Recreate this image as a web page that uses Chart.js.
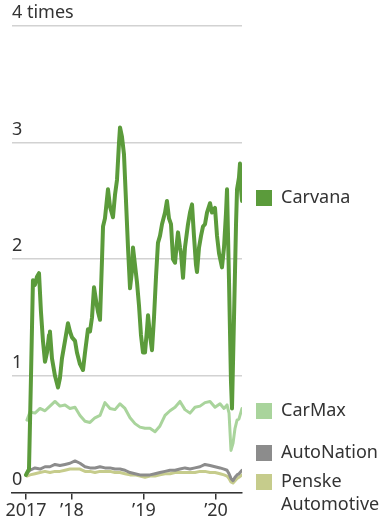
<!DOCTYPE html>
<html>
<head>
<meta charset="utf-8">
<script src="https://cdn.jsdelivr.net/npm/chart.js@4/dist/chart.umd.min.js"></script>
<style>
  html, body { margin: 0; padding: 0; background: #ffffff; }
  canvas { display: block; }
</style>
</head>
<body>
<canvas id="c" width="392" height="523"></canvas>
<script>
// ---- data (x values are decimal years) ----
const seriesNames = ['Carvana', 'CarMax', 'AutoNation', 'Penske Automotive'];

const carvanaDates = [
  2017.361, 2017.403, 2017.431, 2017.458, 2017.486, 2017.514, 2017.542, 2017.569, 2017.597, 2017.625,
  2017.653, 2017.681, 2017.694, 2017.722, 2017.764, 2017.806, 2017.833, 2017.861, 2017.903, 2017.944,
  2017.972, 2018.000, 2018.042, 2018.069, 2018.111, 2018.153, 2018.181, 2018.222, 2018.250, 2018.278,
  2018.306, 2018.333, 2018.361, 2018.389, 2018.417, 2018.431, 2018.458, 2018.500, 2018.528, 2018.569,
  2018.597, 2018.625, 2018.653, 2018.667, 2018.694, 2018.722, 2018.750, 2018.778, 2018.806, 2018.833,
  2018.847, 2018.875, 2018.903, 2018.931, 2018.958, 2018.986, 2019.014, 2019.042, 2019.056, 2019.083,
  2019.111, 2019.139, 2019.167, 2019.194, 2019.222, 2019.250, 2019.292, 2019.319, 2019.347, 2019.375,
  2019.403, 2019.431, 2019.458, 2019.472, 2019.500, 2019.514, 2019.542, 2019.569, 2019.611, 2019.639,
  2019.667, 2019.694, 2019.722, 2019.736, 2019.764, 2019.792, 2019.819, 2019.847, 2019.875, 2019.917,
  2019.944, 2019.986, 2020.014, 2020.042, 2020.083, 2020.111, 2020.139, 2020.153, 2020.181, 2020.208,
  2020.222, 2020.250, 2020.278, 2020.292, 2020.319, 2020.333, 2020.347, 2020.361
];
const carvanaValues = [
  0.15, 0.20, 1.00, 1.82, 1.78, 1.85, 1.88, 1.55, 1.30, 1.12,
  1.20, 1.35, 1.38, 1.15, 1.00, 0.90, 0.98, 1.15, 1.30, 1.45,
  1.38, 1.33, 1.30, 1.20, 1.10, 1.05, 1.20, 1.40, 1.38, 1.50,
  1.76, 1.65, 1.55, 1.48, 2.00, 2.28, 2.35, 2.60, 2.45, 2.36,
  2.55, 2.68, 3.00, 3.13, 3.05, 2.90, 2.50, 2.10, 1.75, 1.90,
  2.10, 1.95, 1.80, 1.60, 1.35, 1.20, 1.20, 1.40, 1.52, 1.35,
  1.22, 1.50, 1.85, 2.14, 2.20, 2.30, 2.40, 2.50, 2.35, 2.30,
  2.00, 1.97, 2.15, 2.23, 2.10, 2.05, 1.84, 2.10, 2.30, 2.40,
  2.47, 2.20, 1.95, 1.89, 2.10, 2.20, 2.28, 2.30, 2.40, 2.48,
  2.40, 2.44, 2.20, 2.05, 1.93, 2.10, 2.40, 2.60, 1.80, 0.95,
  0.72, 1.50, 2.30, 2.60, 2.70, 2.82, 2.60, 2.50
];

const dealerDates = [
  2017.375, 2017.417, 2017.486, 2017.556, 2017.625, 2017.694, 2017.764, 2017.833, 2017.903, 2017.972,
  2018.042, 2018.111, 2018.181, 2018.250, 2018.319, 2018.389, 2018.458, 2018.528, 2018.597, 2018.667,
  2018.736, 2018.806, 2018.875, 2018.944, 2019.014, 2019.083, 2019.153, 2019.222, 2019.292, 2019.361,
  2019.431, 2019.500, 2019.569, 2019.639, 2019.708, 2019.778, 2019.847, 2019.917, 2019.986, 2020.056,
  2020.111, 2020.153, 2020.181, 2020.208, 2020.236, 2020.264, 2020.292, 2020.319, 2020.361
];
const carmaxValues = [
  0.62, 0.69, 0.68, 0.72, 0.70, 0.74, 0.78, 0.74, 0.75, 0.72,
  0.73, 0.66, 0.61, 0.60, 0.64, 0.66, 0.77, 0.72, 0.71, 0.76,
  0.72, 0.64, 0.59, 0.56, 0.55, 0.55, 0.52, 0.57, 0.66, 0.70,
  0.73, 0.78, 0.71, 0.68, 0.73, 0.74, 0.77, 0.78, 0.73, 0.76,
  0.72, 0.75, 0.68, 0.36, 0.42, 0.55, 0.62, 0.63, 0.72
];
const autonationValues = [
  0.17, 0.19, 0.21, 0.20, 0.22, 0.22, 0.24, 0.23, 0.24, 0.25,
  0.27, 0.25, 0.22, 0.21, 0.21, 0.22, 0.21, 0.21, 0.20, 0.20,
  0.19, 0.17, 0.16, 0.15, 0.15, 0.15, 0.16, 0.17, 0.18, 0.19,
  0.19, 0.20, 0.21, 0.20, 0.21, 0.22, 0.24, 0.23, 0.22, 0.21,
  0.20, 0.19, 0.16, 0.12, 0.10, 0.13, 0.15, 0.16, 0.19
];
const penskeValues = [
  0.14, 0.15, 0.16, 0.17, 0.18, 0.17, 0.18, 0.18, 0.19, 0.20,
  0.20, 0.20, 0.18, 0.18, 0.17, 0.18, 0.18, 0.18, 0.17, 0.17,
  0.16, 0.15, 0.15, 0.14, 0.13, 0.14, 0.14, 0.15, 0.16, 0.16,
  0.17, 0.17, 0.17, 0.17, 0.17, 0.18, 0.18, 0.17, 0.17, 0.16,
  0.15, 0.14, 0.12, 0.09, 0.08, 0.10, 0.12, 0.13, 0.15
];

const yTicks = [0, 1, 2, 3, 4];
const yTickLabels = ['0', '1', '2', '3', '4 times'];
const xTicks = [2017.361, 2018, 2019, 2020];
const xTickLabels = ['2017', '\u201918', '\u201919', '\u201920'];
const xRange = [2017.167, 2020.361];

// ---- styles ----
const colors = ['#5b9b3b', '#a9d49c', '#8c8c8c', '#c6cc8c'];
const widths = [4, 3, 3, 3];
const FONT = 'Noto Sans';
const FSIZE = 18;
const TEXT = '#333333';

function pts(xs, ys) { return xs.map((x, i) => ({ x: x, y: ys[i] })); }
const seriesData = [
  pts(carvanaDates, carvanaValues),
  pts(dealerDates, carmaxValues),
  pts(dealerDates, autonationValues),
  pts(dealerDates, penskeValues)
];

const legendPlugin = {
  id: 'sideLegend',
  afterDraw(chart) {
    const ctx = chart.ctx;
    const items = [
      { lines: ['Carvana'], y: 198, c: colors[0] },
      { lines: ['CarMax'], y: 411, c: colors[1] },
      { lines: ['AutoNation'], y: 453, c: colors[2] },
      { lines: ['Penske', 'Automotive'], y: 482, c: colors[3] }
    ];
    ctx.save();
    ctx.font = FSIZE + 'px "' + FONT + '"';
    ctx.textBaseline = 'middle';
    ctx.textAlign = 'left';
    items.forEach(it => {
      ctx.fillStyle = it.c;
      ctx.fillRect(256, it.y - 8, 16, 16);
      ctx.fillStyle = TEXT;
      it.lines.forEach((t, i) => ctx.fillText(t, 281, it.y + i * 23));
    });
    ctx.restore();
  }
};

new Chart(document.getElementById('c'), {
  type: 'line',
  data: {
    datasets: seriesNames.map((n, i) => ({
      label: n,
      data: seriesData[i],
      borderColor: colors[i],
      borderWidth: widths[i],
      pointRadius: 0,
      tension: 0,
      fill: false,
      borderJoinStyle: 'round',
      borderCapStyle: 'round'
    }))
  },
  options: {
    responsive: false,
    animation: false,
    devicePixelRatio: 1,
    layout: { padding: { left: 12, right: 150, top: 26, bottom: 0 } },
    plugins: { legend: { display: false }, tooltip: { enabled: false } },
    scales: {
      x: {
        type: 'linear',
        min: xRange[0],
        max: xRange[1],
        afterBuildTicks: s => { s.ticks = xTicks.map(v => ({ value: v })); },
        grid: { drawOnChartArea: false, drawTicks: true, tickLength: 7, color: '#333333', lineWidth: 1.5 },
        border: { display: true, color: '#333333', width: 1.5 },
        ticks: {
          autoSkip: false, maxRotation: 0, padding: 1, color: TEXT,
          font: { family: FONT, size: FSIZE },
          callback: (v) => { const i = xTicks.indexOf(v); return i >= 0 ? xTickLabels[i] : ''; }
        }
      },
      y: {
        min: 0, max: 4,
        afterBuildTicks: s => { s.ticks = yTicks.map(v => ({ value: v })); },
        grid: { drawTicks: false, color: '#d2d2d2', lineWidth: 1.5 },
        border: { display: false },
        ticks: {
          mirror: true, padding: 0, labelOffset: -13, color: TEXT,
          font: { family: FONT, size: FSIZE },
          callback: (v) => { const i = yTicks.indexOf(v); return i >= 0 ? yTickLabels[i] : ''; }
        }
      }
    }
  },
  plugins: [legendPlugin]
});
</script>
</body>
</html>
